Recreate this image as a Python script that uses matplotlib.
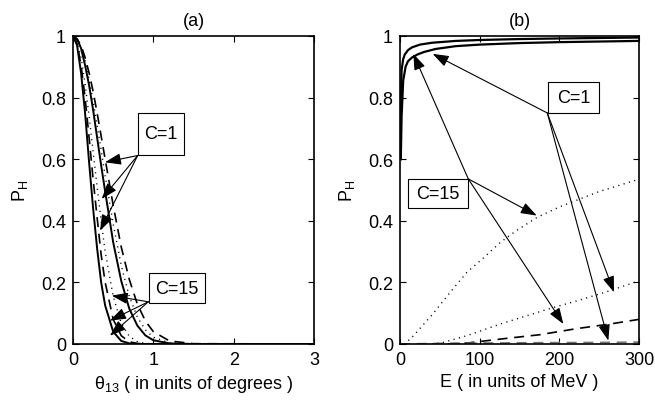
import matplotlib
matplotlib.use('Agg')
import matplotlib.pyplot as plt
from matplotlib.patches import Rectangle

plt.rcParams['font.family'] = ['Liberation Sans', 'DejaVu Sans']
plt.rcParams['mathtext.fontset'] = 'custom'
plt.rcParams['mathtext.rm'] = 'Liberation Sans'
plt.rcParams['mathtext.it'] = 'Liberation Sans:italic'
plt.rcParams['font.size'] = 13

# (a) P_H against theta_13 (degrees)
theta = [0, 0.05, 0.1, 0.15, 0.2, 0.25, 0.3, 0.35, 0.4, 0.5, 0.6, 0.7, 0.8, 0.9, 1.0, 1.2, 1.5, 3.0]
a_solid1 = [1, 0.97, 0.88, 0.75, 0.59, 0.44, 0.31, 0.20, 0.125, 0.04, 0.01, 0.002, 0, 0, 0, 0, 0, 0]
a_dash1 = [1, 0.975, 0.905, 0.80, 0.67, 0.535, 0.41, 0.29, 0.20, 0.08, 0.027, 0.007, 0.002, 0, 0, 0, 0, 0]
a_dot1 = [1, 0.98, 0.93, 0.845, 0.74, 0.625, 0.51, 0.40, 0.30, 0.155, 0.067, 0.025, 0.008, 0.002, 0.001, 0, 0, 0]
a_solid2 = [1, 0.99, 0.96, 0.905, 0.84, 0.76, 0.67, 0.58, 0.495, 0.33, 0.205, 0.115, 0.06, 0.028, 0.012, 0.002, 0, 0]
a_dot2 = [1, 0.99, 0.96, 0.92, 0.86, 0.79, 0.71, 0.63, 0.545, 0.39, 0.255, 0.155, 0.088, 0.046, 0.022, 0.004, 0, 0]
a_dash2 = [1, 0.99, 0.97, 0.93, 0.88, 0.82, 0.75, 0.675, 0.60, 0.45, 0.315, 0.21, 0.13, 0.075, 0.04, 0.01, 0.001, 0]

# (b) P_H against E (MeV)
e_solid_hi = [0.5, 1, 2, 4, 6, 10, 15, 25, 40, 70, 100, 150, 200, 300]
p_solid_hi = [0.6, 0.78, 0.89, 0.925, 0.94, 0.954, 0.963, 0.972, 0.978, 0.984, 0.987, 0.99, 0.992, 0.995]
e_solid_lo = [1, 2, 4, 7, 10, 15, 22, 30, 45, 70, 100, 150, 200, 300]
p_solid_lo = [0.6, 0.74, 0.855, 0.9, 0.918, 0.93, 0.94, 0.948, 0.958, 0.967, 0.972, 0.977, 0.98, 0.984]
e_dot_hi = [5, 8, 17, 30, 42, 63, 84, 105, 126, 146, 172, 200, 250, 300]
p_dot_hi = [0, 0.005, 0.027, 0.065, 0.10, 0.168, 0.233, 0.28, 0.33, 0.368, 0.411, 0.445, 0.495, 0.535]
e_dot_lo = [40, 54, 84, 126, 167, 188, 222, 260, 300]
p_dot_lo = [0, 0.005, 0.027, 0.065, 0.098, 0.115, 0.14, 0.17, 0.205]
e_dash_hi = [60, 84, 126, 175, 222, 264, 300]
p_dash_hi = [0, 0.003, 0.016, 0.03, 0.05, 0.065, 0.08]
e_dash_lo = [0, 50, 150, 250, 300]
p_dash_lo = [0, 0.002, 0.004, 0.005, 0.006]

fig = plt.figure(figsize=(6.55, 4.02), dpi=100)
ax1 = fig.add_axes([0.1115, 0.1418, 0.3679, 0.7662])
ax2 = fig.add_axes([0.6107, 0.1418, 0.3649, 0.7662])

dash = (0, (6, 4))
dot = (0, (0.8, 3.2))
ax1.plot(theta, a_solid1, 'k-', lw=1.4)
ax1.plot(theta, a_dash1, 'k', ls=dash, lw=1.2)
ax1.plot(theta, a_dot1, 'k', ls=dot, lw=1.0)
ax1.plot(theta, a_solid2, 'k-', lw=1.4)
ax1.plot(theta, a_dot2, 'k', ls=dot, lw=1.0)
ax1.plot(theta, a_dash2, 'k', ls=dash, lw=1.2)

ax2.plot(e_solid_hi, p_solid_hi, 'k-', lw=1.6)
ax2.plot(e_solid_lo, p_solid_lo, 'k-', lw=1.6)
ax2.plot(e_dot_hi, p_dot_hi, 'k', ls=dot, lw=1.0)
ax2.plot(e_dot_lo, p_dot_lo, 'k', ls=dot, lw=1.0)
ax2.plot(e_dash_hi, p_dash_hi, 'k', ls=dash, lw=1.2)
ax2.plot(e_dash_lo, p_dash_lo, color='0.45', ls=dash, lw=1.2)

arrow = dict(arrowstyle='-|>,head_length=0.7,head_width=0.25', color='k', lw=0.8,
             mutation_scale=14, shrinkA=0, shrinkB=0)


def label_box(ax, x0, x1, y0, y1, text, origin, tips):
    for tip in tips:
        ax.annotate('', xy=tip, xytext=origin, arrowprops=arrow)
    ax.add_patch(Rectangle((x0, y0), x1 - x0, y1 - y0, facecolor='white',
                           edgecolor='k', lw=0.8, zorder=5, clip_on=False))
    ax.text((x0 + x1) / 2, (y0 + y1) / 2, text, ha='center', va='center', zorder=6)


label_box(ax1, 0.805, 1.386, 0.614, 0.75, 'C=1', (0.805, 0.612),
          [(0.398, 0.59), (0.357, 0.471), (0.336, 0.368)])
label_box(ax1, 0.95, 1.643, 0.133, 0.23, 'C=15', (0.937, 0.137),
          [(0.482, 0.157), (0.46, 0.076), (0.46, 0.027)])
label_box(ax2, 186.1, 250.1, 0.75, 0.85, 'C=1', (184.9, 0.75),
          [(41, 0.942), (268.6, 0.168), (261.5, 0.011)])
label_box(ax2, 10.4, 85.7, 0.44, 0.536, 'C=15', (85.7, 0.536),
          [(16.7, 0.942), (171.6, 0.417), (205, 0.065)])

for ax in (ax1, ax2):
    ax.set_ylim(0, 1)
    ax.set_yticks([0, 0.2, 0.4, 0.6, 0.8, 1])
    ax.set_yticklabels(['0', '0.2', '0.4', '0.6', '0.8', '1'])
    ax.tick_params(direction='in', length=4, width=0.8, top=True, right=True, pad=5)
    for s in ax.spines.values():
        s.set_linewidth(1.2)
    ax.set_ylabel('P$_\\mathrm{H}$', labelpad=8)

ax1.set_xlim(0, 3)
ax1.set_xticks([0, 1, 2, 3])
ax1.set_xlabel('θ$_{\\mathrm{13}}$ ( in units of degrees )')
ax1.set_title('(a)', fontsize=13, pad=8)

ax2.set_xlim(0, 300)
ax2.set_xticks([0, 100, 200, 300])
ax2.set_xlabel('E ( in units of MeV )')
ax2.set_title('(b)', fontsize=13, pad=8)

fig.savefig('out.png', dpi=100)
